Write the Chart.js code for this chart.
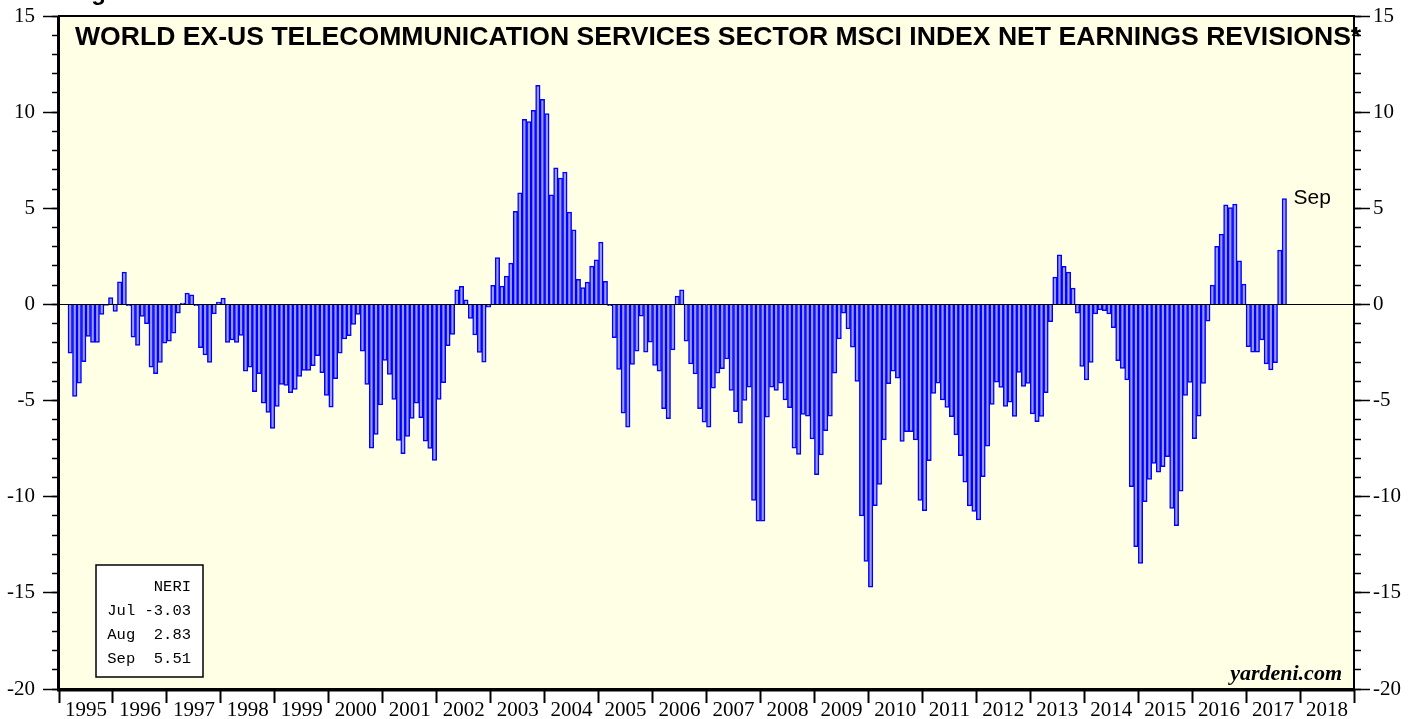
<!DOCTYPE html>
<html>
<head>
<meta charset="utf-8">
<title>World ex-US Telecommunication Services NERI</title>
<script src="https://cdn.jsdelivr.net/npm/chart.js@4.4.1/dist/chart.umd.min.js"></script>
<style>
  html, body { margin: 0; padding: 0; background: #fff; }
  #wrap { width: 1421px; height: 719px; }
</style>
</head>
<body>
<div id="wrap"><canvas id="chart" width="1421" height="719"></canvas></div>
<script>
// x runs in months from Jan 1995; the series starts in Mar 1995
const years = ['1995', '1996', '1997', '1998', '1999', '2000', '2001', '2002', '2003', '2004', '2005', '2006',
               '2007', '2008', '2009', '2010', '2011', '2012', '2013', '2014', '2015', '2016', '2017', '2018'];
const firstMonth = 2;

// Net earnings revisions, monthly (%)
const neri = [
  -2.53, -4.78, -4.09, -2.98, -1.66, -1.98, -1.98, -0.52, -0.05, 0.35,               // 1995 (Mar-Dec)
  -0.36, 1.18, 1.68, -0.08, -1.70, -2.13, -0.62, -1.00, -3.26, -3.60, -3.02, -2.01,  // 1996
  -1.91, -1.49, -0.45, 0.07, 0.59, 0.50, -0.07, -2.25, -2.63, -3.02, -0.49, 0.12,    // 1997
  0.33, -1.98, -1.85, -1.98, -1.61, -3.47, -3.26, -4.54, -3.60, -5.13, -5.62, -6.45, // 1998
  -5.30, -4.16, -4.21, -4.59, -4.42, -3.74, -3.43, -3.43, -3.19, -2.67, -3.55, -4.73, // 1999
  -5.34, -3.86, -2.53, -1.80, -1.63, -1.04, -0.52, -2.43, -4.16, -7.47, -6.76, -5.23, // 2000
  -2.91, -3.64, -4.94, -7.07, -7.76, -6.86, -5.93, -5.13, -5.89, -7.11, -7.49, -8.11, // 2001
  -4.94, -4.07, -2.15, -1.56, 0.76, 0.94, 0.24, -0.73, -1.59, -2.50, -3.00, -0.14,   // 2002
  0.99, 2.44, 0.95, 1.47, 2.15, 4.84, 5.81, 9.62, 9.51, 10.10, 11.39, 10.66,         // 2003
  9.93, 5.70, 7.11, 6.57, 6.88, 4.80, 3.88, 1.30, 0.87, 1.16, 1.99, 2.32,            // 2004
  3.24, 1.20, -0.07, -1.73, -3.38, -5.65, -6.38, -3.12, -2.43, -0.61, -2.48, -1.96,  // 2005
  -3.17, -3.47, -5.42, -5.94, -2.36, 0.43, 0.76, -1.91, -3.10, -3.62, -5.42, -6.12,  // 2006
  -6.38, -4.35, -3.57, -3.34, -2.84, -4.47, -5.58, -6.17, -4.99, -4.30, -10.19, -11.27, // 2007
  -11.27, -5.86, -4.30, -4.47, -4.09, -4.96, -5.37, -7.47, -7.80, -5.72, -5.81, -7.00,  // 2008
  -8.86, -7.83, -6.57, -5.81, -3.57, -1.80, -0.45, -1.28, -2.22, -4.00, -11.00, -13.36, // 2009
  -14.70, -10.47, -9.36, -7.04, -4.12, -3.47, -3.83, -7.12, -6.62, -6.62, -7.04, -10.19, // 2010
  -10.73, -8.13, -4.63, -4.09, -4.96, -5.36, -5.84, -6.78, -7.87, -9.25, -10.48, -10.76, // 2011
  -11.21, -8.96, -7.37, -5.20, -4.04, -4.32, -5.30, -5.08, -5.82, -3.54, -4.26, -4.11,  // 2012
  -5.70, -6.10, -5.82, -4.59, -0.90, 1.42, 2.58, 1.98, 1.68, 0.85, -0.45, -3.22,     // 2013
  -3.93, -3.02, -0.49, -0.29, -0.33, -0.50, -1.21, -2.93, -3.33, -3.92, -9.48, -12.60, // 2014
  -13.47, -10.26, -9.10, -8.27, -8.73, -8.44, -7.92, -10.61, -11.51, -9.71, -4.73, -4.06, // 2015
  -6.98, -5.81, -4.11, -0.87, 1.01, 3.02, 3.66, 5.18, 5.04, 5.22, 2.27, 1.06,        // 2016
  -2.20, -2.48, -2.48, -1.85, -3.10, -3.41, -3.03, 2.83, 5.51                        // 2017 (Jan-Sep)
];

const legendMonths = ['Jul', 'Aug', 'Sep'];

const titleText = 'WORLD EX-US TELECOMMUNICATION SERVICES SECTOR MSCI INDEX NET EARNINGS REVISIONS*';
const SERIF = '"Liberation Serif", "Times New Roman", serif';
const SANS = '"Liberation Sans", Arial, sans-serif';
const MONO = '"Liberation Mono", "Courier New", monospace';

const points = neri.map((v, i) => ({ x: firstMonth + i + 0.5, y: v }));

// cream plot background
const backdrop = {
    id: 'backdrop',
    beforeDraw(chart) {
        const { ctx, chartArea: a } = chart;
        ctx.save();
        ctx.fillStyle = '#ffffe6';
        ctx.fillRect(a.left, a.top, a.right - a.left, a.bottom - a.top);
        ctx.restore();
    }
};

// frame, zero line and the texts drawn on top of the plot
const decor = {
    id: 'decor',
    afterDatasetsDraw(chart) {
        const { ctx, chartArea: a } = chart;
        const xs = chart.scales.x, ys = chart.scales.y;
        ctx.save();

        // zero line
        const y0 = Math.round(ys.getPixelForValue(0)) + 0.5;
        ctx.strokeStyle = '#000';
        ctx.lineWidth = 1;
        ctx.beginPath();
        ctx.moveTo(a.left, y0);
        ctx.lineTo(a.right, y0);
        ctx.stroke();

        // frame: heavier on left and bottom
        ctx.lineWidth = 2;
        ctx.strokeRect(a.left, a.top, a.right - a.left, a.bottom - a.top);
        ctx.lineWidth = 3;
        ctx.beginPath();
        ctx.moveTo(a.left - 0.5, a.top);
        ctx.lineTo(a.left - 0.5, a.bottom + 1);
        ctx.lineTo(a.right + 1, a.bottom + 1);
        ctx.stroke();

        // title
        ctx.fillStyle = '#000';
        ctx.font = 'bold 24px ' + SANS;
        const w = ctx.measureText(titleText).width;
        const size = 24 * 1287 / w;
        ctx.font = 'bold ' + size.toFixed(2) + 'px ' + SANS;
        ctx.textAlign = 'left';
        ctx.textBaseline = 'alphabetic';
        ctx.fillText(titleText, 75, 45);

        // cut-off figure caption at the very top
        ctx.font = 'bold 24px ' + SANS;
        ctx.fillText('Figure 5.', 70, 0);

        // "Sep" next to the latest bar
        const last = neri.length - 1;
        ctx.font = '21px ' + SANS;
        ctx.textBaseline = 'middle';
        ctx.fillText(legendMonths[2],
            xs.getPixelForValue(firstMonth + neri.length) + 7,
            ys.getPixelForValue(neri[last]));

        // NERI box
        ctx.fillStyle = '#fff';
        ctx.fillRect(96, 565, 107, 112);
        ctx.strokeStyle = '#000';
        ctx.lineWidth = 1.5;
        ctx.strokeRect(96, 565, 107, 112);
        ctx.fillStyle = '#000';
        ctx.font = '15.5px ' + MONO;
        ctx.textAlign = 'right';
        ctx.textBaseline = 'middle';
        ctx.fillText('NERI', 191, 587);
        legendMonths.forEach((m, k) => {
            const v = neri[last - 2 + k];
            const s = (v < 0 ? '' : ' ') + v.toFixed(2);
            ctx.fillText(m + ' ' + s, 191, 611 + k * 24);
        });

        // source
        ctx.font = 'italic bold 22px ' + SERIF;
        ctx.textAlign = 'right';
        ctx.textBaseline = 'alphabetic';
        ctx.fillText('yardeni.com', 1342, 680);

        ctx.restore();
    }
};

// vertical scales keep a fixed width and ask for no extra label padding
const fixWidth = width => s => {
    s.width = width;
    s.paddingTop = 0;
    s.paddingBottom = 0;
};

const yMajor = (pos, width, pad) => ({
    type: 'linear',
    position: pos,
    min: -20,
    max: 15,
    weight: 1,
    afterFit: fixWidth(width),
    grid: { drawOnChartArea: false, tickLength: 16, tickWidth: 1.5, tickColor: '#000' },
    border: { display: false },
    ticks: { stepSize: 5, padding: pad, color: '#000', font: { family: SERIF, size: 21 } }
});

const yMinor = (pos) => ({
    type: 'linear',
    position: pos,
    min: -20,
    max: 15,
    weight: 0,
    afterFit: fixWidth(0),
    grid: { drawOnChartArea: false, tickLength: 7, tickWidth: 1.5, tickColor: '#000' },
    border: { display: false },
    ticks: { stepSize: 1, display: false }
});

new Chart(document.getElementById('chart'), {
    type: 'bar',
    data: {
        datasets: [{
            label: 'NERI',
            data: points,
            backgroundColor: '#9999ff',
            borderColor: '#0000ff',
            borderWidth: 1.5,
            barPercentage: 1,
            categoryPercentage: 1,
            xAxisID: 'x',
            yAxisID: 'y'
        }]
    },
    options: {
        responsive: false,
        animation: false,
        devicePixelRatio: 1,
        layout: { padding: { top: 16, left: 0, right: 0, bottom: 0 } },
        plugins: {
            legend: { display: false },
            tooltip: { enabled: false }
        },
        scales: {
            x: {
                type: 'linear',
                position: 'bottom',
                min: 0,
                max: 288,
                offset: false,
                afterFit: s => { s.height = 30; s.paddingLeft = 0; s.paddingRight = 0; },
                grid: {
                    drawOnChartArea: false,
                    offset: false,
                    tickLength: 14,
                    tickWidth: 2,
                    tickColor: ctx => (ctx.tick && ctx.tick.value % 12 === 0) ? '#000' : 'rgba(0,0,0,0)'
                },
                border: { display: false },
                ticks: {
                    stepSize: 6,
                    autoSkip: false,
                    maxRotation: 0,
                    padding: -5,
                    color: '#000',
                    font: { family: SERIF, size: 21 },
                    callback: v => (v % 12 === 6) ? years[(v - 6) / 12] : ''
                }
            },
            y: yMajor('left', 59, 8),
            yMinorL: yMinor('left'),
            y2: yMajor('right', 67, 3),
            yMinorR: yMinor('right')
        }
    },
    plugins: [backdrop, decor]
});
</script>
</body>
</html>
